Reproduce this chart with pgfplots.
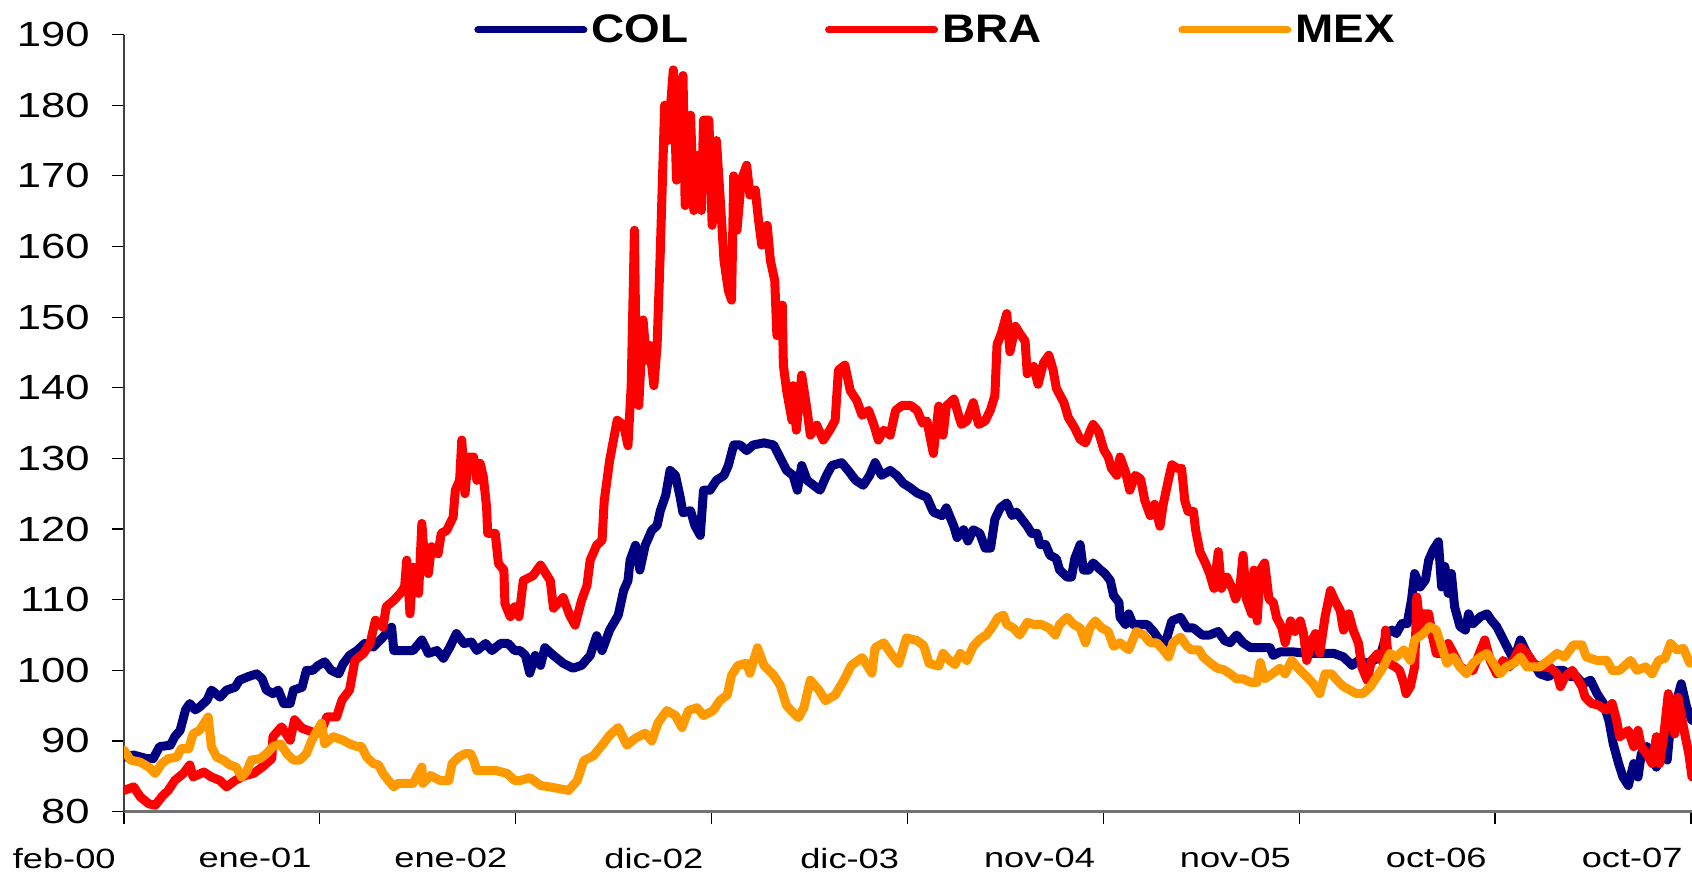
\documentclass[border=0pt]{standalone}
\usepackage{fontspec}
\setmainfont{Liberation Sans}
\newfontfamily\ytfont[FakeStretch=1.25]{Liberation Sans}
\newfontfamily\xtfont[FakeStretch=1.3]{Liberation Sans}
\newfontfamily\legfont[FakeStretch=1.15]{Liberation Sans}
\usepackage{pgfplots}
\pgfplotsset{compat=1.18}
\usepackage{pgfplotstable}

\definecolor{colblue}{HTML}{000080}
\definecolor{brared}{HTML}{FF0000}
\definecolor{mexorange}{HTML}{FF9900}

% x = observation index (one tick = 181.5 obs.)
\pgfplotstableread{
x y
0 87.7
9 88.0
21 87.5
27 87.5
33 89.2
43 89.4
47 90.6
52 91.5
57 94.4
61 95.3
66 94.4
70 94.8
77 95.8
81 97.2
89 96.2
95 97.2
103 97.6
107 98.6
115 99.1
123 99.5
128 98.8
132 97.2
138 96.7
143 97.2
148 95.3
154 95.3
157 97.2
165 97.6
169 100.0
175 100.0
180 100.7
186 101.2
192 100.0
199 99.5
203 100.9
209 102.1
216 102.8
223 103.8
231 103.3
240 104.7
248 106.1
250 102.8
259 102.8
268 102.8
276 104.3
282 102.4
290 102.8
296 101.7
302 103.3
308 105.2
315 103.8
322 104.0
327 102.8
335 103.8
341 102.8
349 103.8
356 103.8
362 102.8
367 102.8
372 102.1
376 99.6
381 102.1
386 100.7
390 103.2
398 102.1
407 101.0
416 100.3
424 100.7
432 102.1
438 104.9
443 102.8
450 105.7
458 107.8
463 111.3
467 112.7
469 115.6
474 117.7
478 114.2
483 117.7
489 119.8
494 120.5
497 122.6
502 124.8
506 128.3
511 127.6
515 124.8
518 122.3
525 122.6
529 120.5
534 119.1
537 125.5
543 125.5
549 126.9
556 127.6
560 129.0
565 131.9
571 131.9
577 131.1
583 131.9
593 132.2
602 131.9
607 130.4
614 128.3
620 127.6
624 125.5
628 129.0
633 126.9
639 126.2
645 125.5
651 127.6
656 129.0
665 129.4
671 128.3
678 126.9
685 126.2
691 127.6
696 129.4
702 127.6
710 128.3
716 127.6
722 126.5
729 125.8
735 125.1
744 124.5
750 122.4
758 121.9
762 123.0
769 120.4
772 118.8
778 119.9
782 118.3
787 119.9
793 119.4
798 117.3
803 117.3
807 121.4
812 123.0
818 123.7
823 121.9
827 122.4
832 121.4
837 120.4
841 119.4
846 119.4
849 117.8
854 117.8
858 116.3
864 115.8
867 114.2
874 113.2
878 113.2
881 115.8
886 117.8
889 114.2
894 114.2
898 115.2
905 114.2
909 113.7
914 112.7
917 110.6
922 109.6
923 107.5
928 106.5
931 108.0
935 106.5
942 106.5
948 106.5
954 105.5
959 104.4
965 103.9
971 107.0
979 107.5
985 106.0
991 106.0
999 105.0
1006 105.0
1014 105.5
1020 104.2
1025 103.9
1031 105.0
1037 103.9
1044 103.2
1053 103.2
1062 103.2
1065 102.1
1071 102.6
1084 102.6
1096 102.4
1105 102.4
1121 102.4
1130 101.9
1138 100.7
1144 101.4
1152 101.0
1158 101.4
1164 101.9
1170 105.2
1175 105.7
1179 105.2
1184 106.6
1189 106.6
1193 109.9
1196 113.7
1201 111.8
1206 112.8
1209 115.6
1213 117.0
1218 118.2
1221 111.8
1224 114.7
1227 110.9
1230 113.7
1233 109.0
1238 106.2
1243 105.7
1246 108.0
1250 106.6
1257 107.6
1263 108.0
1267 107.1
1272 106.2
1277 104.7
1283 102.9
1288 101.4
1294 104.3
1300 102.4
1306 101.0
1312 99.5
1320 99.1
1328 100.0
1334 100.0
1340 99.1
1346 99.1
1352 98.1
1359 98.6
1365 96.7
1371 95.3
1376 92.9
1380 89.6
1385 86.8
1389 84.9
1394 83.7
1399 86.8
1403 84.9
1406 88.2
1411 89.2
1416 87.7
1420 86.3
1425 88.2
1430 87.3
1434 93.9
1439 95.8
1443 98.1
1448 94.8
1453 92.9
}\colData

\pgfplotstableread{
x y
0 83.0
9 83.5
15 82.1
23 81.1
29 80.9
35 82.1
41 83.0
47 84.4
55 85.4
61 86.6
64 84.9
74 85.6
81 84.9
89 84.4
95 83.5
103 84.4
112 85.1
120 85.4
128 86.3
137 87.5
138 90.6
146 92.0
154 90.1
158 93.0
165 91.8
174 91.3
182 91.1
188 93.4
197 93.4
202 95.8
209 97.2
214 101.4
222 102.4
228 103.8
233 107.1
240 106.1
243 109.0
250 109.9
256 110.9
260 111.8
262 115.6
265 108.0
268 114.6
273 110.9
276 120.8
279 114.6
282 113.7
285 117.5
291 116.5
294 119.4
299 119.8
305 121.7
307 125.5
311 126.9
313 132.6
316 125.0
319 130.2
324 130.2
327 126.9
330 129.3
333 127.4
336 123.1
337 119.4
344 119.4
347 115.1
352 114.2
353 109.4
358 107.6
362 109.0
366 107.6
370 112.7
379 113.4
386 114.9
395 112.7
398 108.8
407 110.3
413 107.8
418 106.4
424 109.9
429 112.0
432 115.6
438 117.7
443 118.4
445 124.0
450 129.7
457 135.4
463 134.7
467 131.8
470 140.3
473 162.3
475 138.0
477 137.5
481 149.6
484 143.9
487 146.0
491 140.3
494 146.0
497 159.5
501 180.0
504 175.0
509 185.0
512 169.4
515 182.1
518 184.2
520 165.8
525 178.6
528 165.1
532 172.9
535 165.1
537 177.9
542 177.9
545 163.0
549 175.0
552 167.9
556 158.0
560 153.8
563 152.4
565 170.0
568 162.3
572 169.4
577 171.5
580 167.3
585 168.0
588 163.7
591 160.2
596 163.0
599 158.0
603 155.2
605 147.4
610 151.7
611 143.2
614 139.6
619 135.4
620 140.3
623 134.0
628 141.8
633 136.8
636 133.3
642 134.7
648 132.6
654 134.0
659 135.4
662 142.5
668 143.2
673 139.6
679 138.2
684 136.1
690 136.8
695 134.7
699 132.6
704 134.0
710 133.3
715 136.8
721 137.5
729 137.5
735 136.8
740 135.0
744 135.3
750 130.7
755 137.4
759 133.3
762 137.4
769 138.4
773 136.3
776 134.8
781 135.3
787 137.9
792 134.8
798 135.3
803 136.9
807 138.9
809 146.1
813 147.7
818 150.5
821 145.1
826 148.7
830 147.7
835 146.6
837 142.0
843 143.0
847 140.5
852 143.5
857 144.6
861 142.5
864 139.9
871 137.9
875 135.8
881 134.3
886 132.7
891 132.2
895 133.8
898 134.8
903 133.8
908 131.2
912 130.2
915 128.6
920 127.6
923 130.2
928 128.1
932 125.5
937 127.6
942 127.1
946 124.0
951 121.9
955 123.5
960 120.4
963 123.5
968 127.1
971 129.1
976 128.6
980 128.6
983 124.0
986 122.5
991 122.5
993 119.9
997 116.8
1002 115.2
1006 113.7
1010 111.6
1014 116.8
1017 111.6
1022 113.2
1027 111.6
1030 110.1
1034 111.6
1037 116.3
1040 110.1
1045 108.0
1047 114.2
1050 107.0
1053 114.2
1057 115.2
1061 110.1
1065 109.6
1068 107.5
1073 106.0
1076 103.9
1081 107.0
1085 105.5
1090 107.0
1093 105.2
1096 101.4
1101 104.3
1104 105.2
1108 102.4
1113 107.6
1118 111.3
1122 109.9
1127 108.5
1130 105.7
1135 108.0
1139 105.7
1144 103.8
1147 100.5
1152 98.6
1156 101.4
1162 102.4
1167 101.0
1169 105.7
1172 101.0
1178 100.5
1182 100.0
1186 98.1
1188 96.7
1192 97.7
1196 100.5
1198 110.4
1201 106.2
1204 108.0
1209 108.0
1212 105.2
1216 102.4
1223 102.4
1227 103.8
1232 102.4
1238 100.5
1244 100.0
1250 100.0
1257 102.8
1261 104.3
1266 101.4
1272 99.5
1278 101.4
1284 100.5
1294 103.3
1300 102.4
1306 101.0
1312 100.5
1321 100.5
1328 99.5
1331 97.7
1335 99.0
1342 100.0
1346 99.0
1351 97.7
1354 96.2
1360 95.3
1366 95.1
1373 94.4
1379 95.3
1383 93.0
1386 90.6
1394 91.5
1399 89.2
1403 91.5
1406 89.2
1411 88.2
1416 86.8
1420 90.6
1423 86.8
1427 91.0
1431 96.7
1434 92.9
1437 91.0
1440 96.2
1445 92.0
1450 88.2
1453 84.9
}\braData

\pgfplotstableread{
x y
0 88.7
6 87.3
15 87.0
23 86.3
29 85.4
35 86.8
41 87.5
49 87.7
53 88.9
60 88.9
64 91.0
70 91.5
78 93.4
81 89.2
86 87.7
92 87.3
98 86.6
104 86.3
109 84.9
114 85.8
118 87.3
126 87.5
132 88.2
138 89.2
145 89.6
151 88.2
157 87.3
163 87.3
169 88.2
174 90.1
179 91.5
183 92.5
186 89.6
194 90.6
203 90.1
209 89.6
216 89.2
220 89.2
225 87.7
231 86.8
236 86.6
240 85.4
245 84.4
250 83.5
254 84.0
260 84.0
268 84.0
276 86.3
277 84.0
284 85.1
293 84.4
301 84.4
304 86.8
310 87.7
316 88.2
321 88.2
324 87.3
327 85.8
336 85.8
345 85.8
355 85.4
362 84.4
367 84.4
376 84.8
386 83.7
398 83.4
412 83.0
420 84.4
426 87.2
435 87.9
443 89.4
450 90.8
458 91.9
466 89.4
474 90.4
483 91.1
489 90.0
495 92.6
503 94.3
511 93.6
517 91.9
523 94.3
531 94.7
537 93.6
546 94.3
552 95.7
559 96.5
563 99.3
569 100.7
577 101.0
580 99.6
587 103.2
593 100.7
602 99.3
608 97.9
614 95.0
620 94.0
625 93.3
630 94.7
636 98.6
644 97.2
650 95.7
659 96.5
667 98.6
674 100.7
684 101.8
693 99.6
696 103.2
704 103.9
712 102.1
718 101.0
725 104.6
735 104.2
741 103.5
746 101.0
750 100.8
755 100.6
759 102.4
765 101.4
770 100.8
775 102.4
781 101.4
787 103.4
793 104.4
799 105.0
804 106.0
810 107.5
815 107.8
818 106.5
824 106.0
830 105.0
837 106.8
843 106.5
850 106.5
857 106.0
863 105.0
867 106.5
874 107.5
880 106.5
886 106.0
891 103.9
895 106.0
900 107.0
906 106.0
912 105.5
917 103.4
923 103.9
931 102.9
938 105.5
945 105.0
951 103.9
957 103.9
963 102.9
968 101.9
972 103.9
979 104.7
985 103.4
989 102.9
996 102.9
1000 101.9
1006 101.1
1013 100.3
1019 100.1
1025 99.5
1031 98.8
1037 98.8
1044 98.3
1050 98.3
1053 101.1
1057 98.8
1064 99.5
1071 100.3
1076 99.5
1082 101.4
1088 100.3
1096 99.1
1102 98.1
1108 96.7
1113 99.5
1119 99.5
1124 98.6
1130 97.7
1136 97.2
1142 96.7
1148 96.7
1155 97.7
1161 99.1
1167 100.5
1173 102.4
1179 101.9
1186 102.9
1192 101.4
1196 104.3
1204 105.2
1210 106.2
1216 105.7
1220 103.8
1226 101.0
1232 101.9
1238 100.5
1244 99.5
1250 101.0
1257 101.9
1263 102.4
1269 101.0
1275 99.5
1281 100.5
1288 101.0
1294 101.9
1300 100.5
1306 100.5
1312 100.5
1320 101.4
1328 102.4
1335 101.9
1343 103.6
1351 103.6
1355 101.9
1365 101.4
1374 101.4
1379 100.0
1386 100.0
1396 101.4
1402 100.0
1410 100.5
1416 99.5
1422 101.4
1428 101.7
1433 103.8
1439 102.9
1445 103.1
1451 101.0
}\mexData

\begin{document}
\begin{tikzpicture}
\begin{axis}[
    name=ax,
    scale only axis,
    width=784bp, height=388.5bp,
    xmin=0, xmax=1453,
    ymin=80, ymax=190,
    xtick={0,181.5,363,544.5,726,907.5,1089,1270.5,1452},
    xticklabels={feb-00,ene-01,ene-02,dic-02,dic-03,nov-04,nov-05,oct-06,oct-07},
    ytick={80,90,...,190},
    yticklabels={80,90,100,110,120,130,140,150,160,170,180,190},
    axis x line*=bottom, axis y line*=left,
    x axis line style={-, draw=black!55, line width=1.3bp},
    y axis line style={-, draw=black!75, line width=0.7bp},
    tick align=outside,
    major tick length=6bp,
    tick style={black, line width=0.6bp},
    yticklabel style={font=\ytfont\fontsize{17.5}{17.5}\selectfont, anchor=east, inner sep=0pt, xshift=-11bp},
    xticklabel style={font=\xtfont\fontsize{14}{14}\selectfont, anchor=north east, inner sep=0pt, xshift=-4bp, yshift=-12bp},
    legend columns=3,
    legend style={at={(rel axis cs:0.2232,1.006)}, anchor=west, draw=none, fill=none,
        inner sep=0pt, font=\legfont\bfseries\fontsize{20}{20}\selectfont,
        /tikz/every even column/.append style={column sep=66.5bp}},
    legend image code/.code={\draw[#1, line width=3.5bp, line cap=round] (0bp,0bp) -- (53bp,0bp);},
    every axis plot/.append style={line width=4.5bp, line join=round, line cap=round},
]
\addplot[colblue] table {\colData};
\addplot[brared] table {\braData};
\addplot[mexorange] table {\mexData};
\legend{COL,BRA,MEX}
\end{axis}
\pgfresetboundingbox
\path[use as bounding box] ([shift={(-62bp,-31.7bp)}]ax.south west) rectangle ([shift={(0bp,17.3bp)}]ax.north east);
\end{tikzpicture}
\end{document}
